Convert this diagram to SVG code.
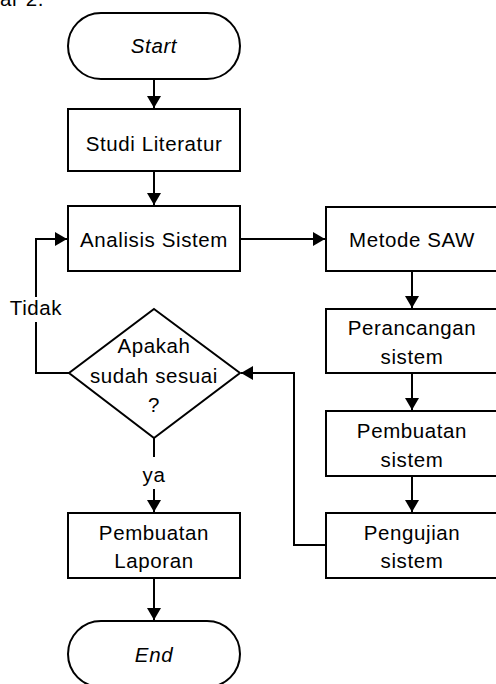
<svg xmlns="http://www.w3.org/2000/svg" width="496" height="684" viewBox="0 0 496 684">
  <style>
    .shape { fill: #ffffff; stroke: #000000; stroke-width: 2; }
    .txt { font-family: "Liberation Sans", Arial, sans-serif; font-size: 20.5px; fill: #000000; text-anchor: middle; letter-spacing: 0.6px; }
    .it { font-style: italic; }
    .wire { fill: none; stroke: #000000; stroke-width: 2; }
    .lblbg { fill: #ffffff; stroke: none; }
  </style>
  <defs>
    <marker id="arrow" markerUnits="userSpaceOnUse" markerWidth="13" markerHeight="14" refX="12" refY="7" orient="auto">
      <path d="M0,0 L12,7 L0,14 z" fill="#000000"/>
    </marker>
  </defs>

  <rect width="496" height="684" fill="#ffffff"/>

  <!-- caption cut at the top edge -->
  <text class="txt" x="0" y="6" style="text-anchor:start">ar 2.</text>

  <!-- connectors -->
  <g id="connectors">
    <path class="wire" d="M154,79 V108" marker-end="url(#arrow)"/>
    <path class="wire" d="M154,171 V205" marker-end="url(#arrow)"/>
    <path class="wire" d="M240,239 H325" marker-end="url(#arrow)"/>
    <path class="wire" d="M412,271 V308" marker-end="url(#arrow)"/>
    <path class="wire" d="M412,373 V410" marker-end="url(#arrow)"/>
    <path class="wire" d="M412,476 V512" marker-end="url(#arrow)"/>
    <path class="wire" d="M326,545 H294 V373 H241" marker-end="url(#arrow)"/>
    <path class="wire" d="M69,373 H36 V239 H67" marker-end="url(#arrow)"/>
    <path class="wire" d="M154,438 V512" marker-end="url(#arrow)"/>
    <path class="wire" d="M154,578 V620" marker-end="url(#arrow)"/>
    <rect class="lblbg" x="6" y="297" width="60" height="25"/>
    <text class="txt" x="36" y="315">Tidak</text>
    <rect class="lblbg" x="140" y="457" width="28" height="32"/>
    <text class="txt" x="154" y="482">ya</text>
  </g>

  <g id="start">
    <rect class="shape" x="68" y="13" width="172" height="66" rx="33" ry="33"/>
    <text class="txt it" x="154" y="53">Start</text>
  </g>

  <g id="studi-literatur">
    <rect class="shape" x="68" y="109" width="172" height="62"/>
    <text class="txt" x="154" y="151">Studi Literatur</text>
  </g>

  <g id="analisis-sistem">
    <rect class="shape" x="68" y="206" width="172" height="65"/>
    <text class="txt" x="154" y="247">Analisis Sistem</text>
  </g>

  <g id="keputusan">
    <path class="shape" d="M154,309 L240,373 L154,438 L69,373 z"/>
    <text class="txt" x="154" y="353">Apakah</text>
    <text class="txt" x="154" y="383">sudah sesuai</text>
    <text class="txt" x="154" y="412">?</text>
  </g>

  <g id="pembuatan-laporan">
    <rect class="shape" x="68" y="513" width="172" height="65"/>
    <text class="txt" x="154" y="540">Pembuatan</text>
    <text class="txt" x="154" y="568">Laporan</text>
  </g>

  <g id="end">
    <rect class="shape" x="68" y="621" width="172" height="66" rx="33" ry="33"/>
    <text class="txt it" x="154" y="662">End</text>
  </g>

  <g id="metode-saw">
    <rect class="shape" x="326" y="207" width="172" height="64"/>
    <text class="txt" x="412" y="247">Metode SAW</text>
  </g>

  <g id="perancangan-sistem">
    <rect class="shape" x="326" y="309" width="172" height="64"/>
    <text class="txt" x="412" y="335">Perancangan</text>
    <text class="txt" x="412" y="364">sistem</text>
  </g>

  <g id="pembuatan-sistem">
    <rect class="shape" x="326" y="411" width="172" height="65"/>
    <text class="txt" x="412" y="438">Pembuatan</text>
    <text class="txt" x="412" y="467">sistem</text>
  </g>

  <g id="pengujian-sistem">
    <rect class="shape" x="326" y="513" width="172" height="65"/>
    <text class="txt" x="412" y="540">Pengujian</text>
    <text class="txt" x="412" y="568">sistem</text>
  </g>
</svg>
